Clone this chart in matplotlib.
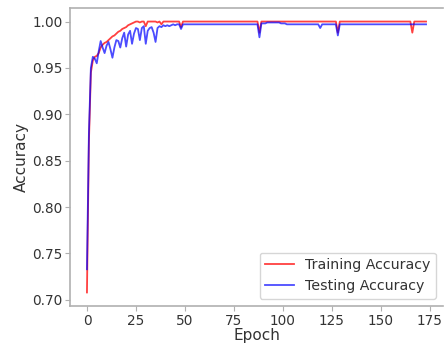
import matplotlib
matplotlib.use('Agg')
import matplotlib.pyplot as plt

# Datos (precision por epoca)
train_acc = [
    0.708, 0.870, 0.945, 0.958, 0.962, 0.963, 0.966, 0.972, 0.975, 0.977,
    0.978, 0.980, 0.982, 0.984, 0.985, 0.987, 0.989, 0.990, 0.992, 0.993,
    0.994, 0.996, 0.997, 0.998, 0.999, 1.000, 1.000, 0.999, 1.000, 1.000,
    0.995, 1.000, 1.000, 1.000, 1.000, 1.000, 0.999, 1.000, 0.997, 1.000,
    1.000, 1.000, 1.000, 1.000, 1.000, 1.000, 1.000, 1.000, 0.994, 1.000,
    1.000, 1.000, 1.000, 1.000, 1.000, 1.000, 1.000, 1.000, 1.000, 1.000,
    1.000, 1.000, 1.000, 1.000, 1.000, 1.000, 1.000, 1.000, 1.000, 1.000,
    1.000, 1.000, 1.000, 1.000, 1.000, 1.000, 1.000, 1.000, 1.000, 1.000,
    1.000, 1.000, 1.000, 1.000, 1.000, 1.000, 1.000, 1.000, 0.988, 1.000,
    1.000, 1.000, 1.000, 1.000, 1.000, 1.000, 1.000, 1.000, 1.000, 1.000,
    1.000, 1.000, 1.000, 1.000, 1.000, 1.000, 1.000, 1.000, 1.000, 1.000,
    1.000, 1.000, 1.000, 1.000, 1.000, 1.000, 1.000, 1.000, 1.000, 1.000,
    1.000, 1.000, 1.000, 1.000, 1.000, 1.000, 1.000, 1.000, 0.988, 1.000,
    1.000, 1.000, 1.000, 1.000, 1.000, 1.000, 1.000, 1.000, 1.000, 1.000,
    1.000, 1.000, 1.000, 1.000, 1.000, 1.000, 1.000, 1.000, 1.000, 1.000,
    1.000, 1.000, 1.000, 1.000, 1.000, 1.000, 1.000, 1.000, 1.000, 1.000,
    1.000, 1.000, 1.000, 1.000, 1.000, 1.000, 0.988, 1.000, 1.000, 1.000,
    1.000, 1.000, 1.000, 1.000,
]

test_acc = [
    0.733, 0.880, 0.950, 0.962, 0.960, 0.955, 0.968, 0.979, 0.972, 0.966,
    0.974, 0.978, 0.970, 0.961, 0.972, 0.980, 0.979, 0.972, 0.982, 0.988,
    0.973, 0.986, 0.990, 0.976, 0.987, 0.993, 0.992, 0.980, 0.993, 0.995,
    0.976, 0.990, 0.993, 0.994, 0.988, 0.978, 0.993, 0.995, 0.994, 0.996,
    0.995, 0.996, 0.995, 0.996, 0.997, 0.996, 0.997, 0.997, 0.992, 0.997,
    0.997, 0.997, 0.997, 0.997, 0.997, 0.997, 0.997, 0.997, 0.997, 0.997,
    0.997, 0.997, 0.997, 0.997, 0.997, 0.997, 0.997, 0.997, 0.997, 0.997,
    0.997, 0.997, 0.997, 0.997, 0.997, 0.997, 0.997, 0.997, 0.997, 0.997,
    0.997, 0.997, 0.997, 0.997, 0.997, 0.997, 0.997, 0.997, 0.983, 0.998,
    0.998, 0.998, 0.999, 0.999, 0.999, 0.999, 0.999, 0.999, 0.999, 0.998,
    0.998, 0.998, 0.997, 0.997, 0.997, 0.997, 0.997, 0.997, 0.997, 0.997,
    0.997, 0.997, 0.997, 0.997, 0.997, 0.997, 0.997, 0.997, 0.997, 0.993,
    0.997, 0.997, 0.997, 0.997, 0.997, 0.997, 0.997, 0.997, 0.985, 0.997,
    0.997, 0.997, 0.997, 0.997, 0.997, 0.997, 0.997, 0.997, 0.997, 0.997,
    0.997, 0.997, 0.997, 0.997, 0.997, 0.997, 0.997, 0.997, 0.997, 0.997,
    0.997, 0.997, 0.997, 0.997, 0.997, 0.997, 0.997, 0.997, 0.997, 0.997,
    0.997, 0.997, 0.997, 0.997, 0.997, 0.997, 0.997, 0.997, 0.997, 0.997,
    0.997, 0.997, 0.997, 0.997,
]

epochs = list(range(len(train_acc)))
xticks = [0, 25, 50, 75, 100, 125, 150, 175]
yticks = [0.70, 0.75, 0.80, 0.85, 0.90, 0.95, 1.00]

texto = '#333333'
borde = '#b0b0b0'

fig = plt.figure(figsize=(4.44, 3.45), dpi=100)
ax = fig.add_axes([70 / 444, 39 / 345, 373 / 444, 298 / 345])

ax.plot(epochs, train_acc, color='red', alpha=0.75, linewidth=1.3, label='Training Accuracy')
ax.plot(epochs, test_acc, color='blue', alpha=0.7, linewidth=1.3, label='Testing Accuracy')

ax.set_xticks(xticks)
ax.set_yticks(yticks)
ax.set_yticklabels([f'{v:.2f}' for v in yticks])
ax.tick_params(labelsize=9.8, colors=borde, labelcolor=texto, pad=2)

ax.set_xlabel('Epoch', fontsize=11, color=texto, labelpad=0)
ax.set_ylabel('Accuracy', fontsize=11, color=texto, labelpad=2)

for s in ax.spines.values():
    s.set_color(borde)
    s.set_linewidth(1.2)
ax.spines['right'].set_visible(False)  # en la original queda fuera del recorte

leg = ax.legend(loc='lower right', fontsize=10.2)
for t in leg.get_texts():
    t.set_color(texto)

fig.savefig('out.png', dpi=100)
